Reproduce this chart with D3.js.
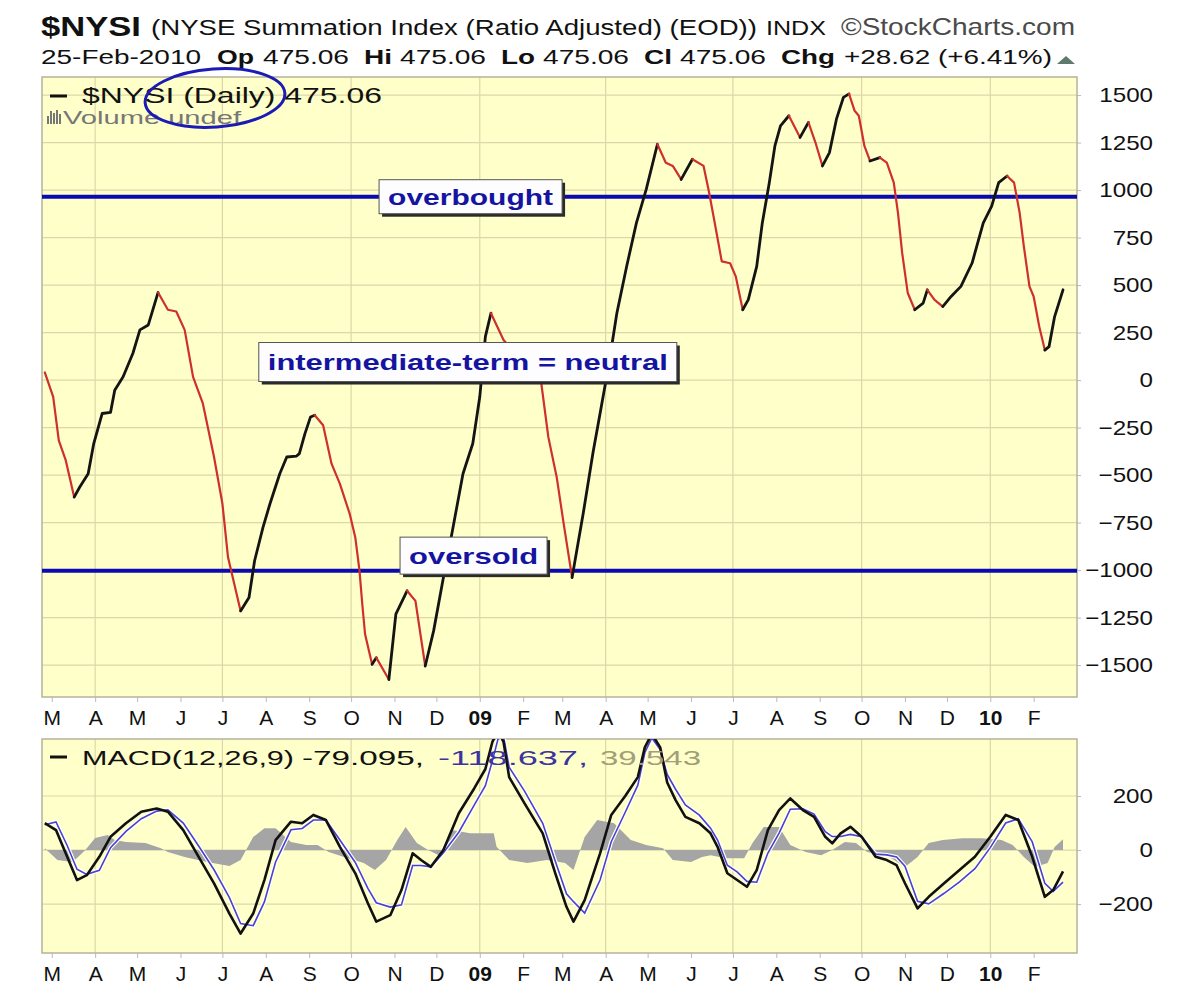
<!DOCTYPE html>
<html lang="en">
<head>
<meta charset="utf-8">
<title>$NYSI</title>
<script src="https://cdn.jsdelivr.net/npm/d3@7"></script>
<style>
  body { margin: 0; background: #fff; }
  text { font-family: "Liberation Sans", Arial, sans-serif; }
</style>
</head>
<body>
<svg id="chart" width="1200" height="997"></svg>
<script>
// NYSE Summation Index
var nysiDates = ["2008-02-25","2008-03-02","2008-03-06","2008-03-11","2008-03-17","2008-03-21","2008-03-27","2008-03-31",
  "2008-04-06","2008-04-12","2008-04-15","2008-04-21","2008-04-28","2008-05-03","2008-05-09","2008-05-16","2008-05-23",
  "2008-05-29","2008-06-04","2008-06-10","2008-06-17","2008-06-25","2008-07-01","2008-07-05","2008-07-14","2008-07-20",
  "2008-07-24","2008-07-30","2008-08-04","2008-08-11","2008-08-16","2008-08-23","2008-08-25","2008-08-29","2008-09-02",
  "2008-09-05","2008-09-11","2008-09-17","2008-09-23","2008-09-30","2008-10-04","2008-10-07","2008-10-09","2008-10-11",
  "2008-10-16","2008-10-19","2008-10-28","2008-11-02","2008-11-10","2008-11-16","2008-11-23","2008-11-29","2008-12-06",
  "2008-12-12","2008-12-20","2008-12-27","2009-01-01","2009-01-05","2009-01-09","2009-01-18","2009-01-31","2009-02-14",
  "2009-02-19","2009-02-25","2009-03-02","2009-03-08","2009-03-16","2009-03-23","2009-03-28","2009-04-03","2009-04-09",
  "2009-04-16","2009-04-23","2009-04-30","2009-05-08","2009-05-14","2009-05-19","2009-05-25","2009-06-02","2009-06-10",
  "2009-06-14","2009-06-18","2009-06-23","2009-06-29","2009-07-03","2009-07-08","2009-07-12","2009-07-18","2009-07-22",
  "2009-07-27","2009-07-31","2009-08-04","2009-08-10","2009-08-18","2009-08-24","2009-08-29","2009-09-03","2009-09-08",
  "2009-09-13","2009-09-18","2009-09-22","2009-09-26","2009-09-29","2009-10-03","2009-10-07","2009-10-14","2009-10-19",
  "2009-10-24","2009-10-27","2009-10-30","2009-11-03","2009-11-08","2009-11-14","2009-11-17","2009-11-22","2009-11-28",
  "2009-12-04","2009-12-11","2009-12-19","2009-12-23","2009-12-27","2010-01-02","2010-01-07","2010-01-13","2010-01-18",
  "2010-01-22","2010-01-25","2010-01-29","2010-02-01","2010-02-05","2010-02-09","2010-02-12","2010-02-16","2010-02-22"];
var nysiValues = [40,-88,-317,-423,-616,-563,-493,-334,
  -176,-170,-53,17,141,264,290,461,370,
  361,264,17,-123,-405,-651,-933,-1215,-1144,
  -951,-775,-651,-493,-405,-400,-387,-282,-194,
  -185,-238,-440,-546,-704,-828,-1003,-1180,-1338,
  -1496,-1461,-1576,-1232,-1109,-1162,-1505,-1320,-1039,
  -810,-493,-334,-88,229,352,211,100,-18,
  -299,-511,-757,-1039,-700,-380,-176,70,352,
  598,827,1004,1241,1144,1127,1056,1162,1127,
  986,827,625,615,546,370,423,598,827,
  1039,1232,1338,1391,1277,1356,1250,1127,1197,
  1373,1488,1506,1417,1391,1232,1153,1171,1144,
  1039,880,669,458,370,405,475,423,387,
  440,493,616,722,827,915,1039,1074,1039,
  880,704,493,440,282,158,176,334,475.06];

// MACD(12,26,9) line and signal line
var macdDates = ["2008-02-25","2008-03-04","2008-03-12","2008-03-19","2008-03-26","2008-04-04","2008-04-12","2008-04-23",
  "2008-05-04","2008-05-15","2008-05-23","2008-06-03","2008-06-14","2008-06-25","2008-07-06","2008-07-14","2008-07-23",
  "2008-07-31","2008-08-08","2008-08-19","2008-08-27","2008-09-04","2008-09-13","2008-09-23","2008-10-04","2008-10-13",
  "2008-10-19","2008-10-29","2008-11-06","2008-11-14","2008-11-20","2008-11-27","2008-12-06","2008-12-17","2008-12-28",
  "2009-01-05","2009-01-10","2009-01-14","2009-01-18","2009-01-22","2009-02-02","2009-02-15","2009-02-24","2009-03-04",
  "2009-03-09","2009-03-17","2009-03-28","2009-04-05","2009-04-15","2009-04-24","2009-04-29","2009-05-04","2009-05-10",
  "2009-05-15","2009-05-21","2009-05-28","2009-06-07","2009-06-15","2009-06-20","2009-06-27","2009-07-04","2009-07-11",
  "2009-07-18","2009-07-26","2009-08-03","2009-08-11","2009-08-20","2009-08-28","2009-09-05","2009-09-10","2009-09-16",
  "2009-09-23","2009-10-01","2009-10-11","2009-10-19","2009-10-26","2009-11-01","2009-11-10","2009-11-18","2009-11-29",
  "2009-12-10","2009-12-21","2010-01-01","2010-01-12","2010-01-21","2010-01-31","2010-02-09","2010-02-15","2010-02-22"];
var macdValues = [100,74,-25,-111,-93,-25,49,99,
  142,154,142,74,-25,-123,-235,-309,-235,
  -111,37,105,99,130,111,12,-86,-197,
  -265,-241,-148,-12,-37,-62,0,136,228,
  300,400,440,400,270,173,62,-86,-210,
  -265,-185,-12,130,200,270,380,430,380,
  250,185,123,99,62,12,-86,-111,-136,
  -74,74,148,191,148,123,49,25,62,
  86,49,-25,-37,-56,-123,-216,-173,-123,
  -74,-25,49,130,111,-25,-173,-148,-79.095];
var signalValues = [94,104,17,-71,-90,-75,9,69,
  116,144,149,100,15,-73,-176,-272,-280,
  -192,-44,75,80,111,111,37,-46,-142,
  -195,-211,-203,-57,-57,-62,-10,66,166,
  238,330,410,420,307,218,99,-41,-162,
  -191,-233,-111,31,140,240,360,415,372,
  280,225,167,129,81,37,-56,-81,-116,
  -119,-11,63,151,153,133,68,50,50,
  58,49,-15,-18,-26,-60,-190,-199,-160,
  -118,-69,9,100,116,30,-123,-153,-118.637];

// MACD histogram
var histDates = ["2008-02-25","2008-03-05","2008-03-16","2008-03-25","2008-04-01","2008-04-10","2008-04-15","2008-04-23",
  "2008-05-07","2008-05-18","2008-05-23","2008-06-04","2008-06-20","2008-07-06","2008-07-14","2008-07-23","2008-07-31",
  "2008-08-08","2008-08-19","2008-08-30","2008-09-07","2008-09-15","2008-09-26","2008-10-10","2008-10-18","2008-10-26",
  "2008-11-03","2008-11-09","2008-11-17","2008-11-25","2008-12-03","2008-12-12","2008-12-25","2009-01-11","2009-01-13",
  "2009-01-22","2009-02-04","2009-02-18","2009-03-03","2009-03-09","2009-03-17","2009-03-26","2009-04-07","2009-04-19",
  "2009-04-30","2009-05-12","2009-05-19","2009-06-01","2009-06-09","2009-06-15","2009-06-26","2009-07-09","2009-07-15",
  "2009-07-23","2009-08-03","2009-08-11","2009-08-22","2009-09-02","2009-09-10","2009-09-19","2009-09-27","2009-10-05",
  "2009-10-19","2009-11-01","2009-11-10","2009-11-18","2009-11-28","2009-12-12","2009-12-26","2010-01-09","2010-01-17",
  "2010-01-25","2010-02-02","2010-02-11","2010-02-16","2010-02-22"];
var histValues = [7,-37,-44,0,45,56,37,30,
  26,7,-7,-26,-44,-59,-37,48,81,
  81,30,19,19,-7,-26,-48,-74,-37,
  37,85,26,0,-20,74,62,62,12,
  -37,-48,-37,-48,-74,48,111,99,37,
  19,7,-37,-44,-26,-19,-30,-30,26,
  85,85,19,-7,-19,0,30,26,-7,
  -19,-63,-26,26,37,44,44,37,19,
  -26,-63,-48,11,39.543];

var monthLabels = ["M","A","M","J","J","A","S","O","N","D","09","F",
                   "M","A","M","J","J","A","S","O","N","D","10","F"];
var priceTicks = [1500,1250,1000,750,500,250,0,-250,-500,-750,-1000,-1250,-1500];
var macdTicks = [200,0,-200];
var levelLines = [{name:"overbought", value:965}, {name:"oversold", value:-1003}];
var notes = [
  {text:"overbought", date:"2008-10-21", value:965, w:183, h:34},
  {text:"intermediate-term = neutral", date:"2008-07-27", value:95, w:418, h:39},
  {text:"oversold", date:"2008-11-05", value:-924, w:147, h:37}
];

var parse = d3.timeParse("%Y-%m-%d");
var svg = d3.select("#chart");

var L = 42, R = 1077, mTop = 77, mBot = 697, pTop = 739, pBot = 953;

var x = d3.scaleTime().domain([new Date(2008,1,23), new Date(2010,2,4)]).range([L, R]);
var y = d3.scaleLinear().domain([-1668, 1595]).range([mBot, mTop]);
var ym = d3.scaleLinear().domain([-381, 411]).range([pBot, pTop]);

var months = d3.timeMonth.range(new Date(2008,2,1), new Date(2010,2,1));
var quarters = months.filter(function(d){ return d.getMonth() % 3 === 0; });

function stretch(sel, k) {
  sel.each(function(){
    var w = this.getComputedTextLength();
    d3.select(this).attr("textLength", w * k).attr("lengthAdjust", "spacingAndGlyphs");
  });
}

function drawPanel(top, bottom, yScale, ticks, id) {
  svg.append("clipPath").attr("id", id).append("rect")
    .attr("x", L).attr("y", top).attr("width", R - L).attr("height", bottom - top);
  svg.append("rect").attr("x", L).attr("y", top).attr("width", R - L).attr("height", bottom - top)
    .attr("fill", "#ffffc9");
  var g = svg.append("g");
  g.selectAll(".hg").data(ticks).enter().append("line")
    .attr("x1", L).attr("x2", R)
    .attr("y1", function(d){ return yScale(d); }).attr("y2", function(d){ return yScale(d); })
    .attr("stroke", "#dcd7aa").attr("stroke-width", 1.2);
  g.selectAll(".vg").data(quarters).enter().append("line")
    .attr("y1", top).attr("y2", bottom)
    .attr("x1", function(d){ return x(d); }).attr("x2", function(d){ return x(d); })
    .attr("stroke", "#dcd7aa").attr("stroke-width", 1.2);

  // month axis under the panel
  var ax = svg.append("g").attr("transform", "translate(0," + bottom + ")")
    .call(d3.axisBottom(x).tickValues(months).tickSize(5).tickPadding(8)
      .tickFormat(function(d, i){ return monthLabels[i]; }));
  ax.select(".domain").remove();
  ax.selectAll("line").attr("stroke", "#bbb");
  ax.selectAll("text").attr("font-size", 21).attr("fill", "#111")
    .attr("font-family", "'Liberation Sans', Arial, sans-serif")
    .attr("font-weight", function(d, i){ return /\d/.test(monthLabels[i]) ? "bold" : "normal"; });

  // value axis on the right
  var ay = svg.append("g").attr("transform", "translate(" + R + ",0)")
    .call(d3.axisRight(yScale).tickValues(ticks).tickSize(4).tickFormat(d3.format("d")));
  ay.select(".domain").remove();
  ay.selectAll("line").attr("stroke", "#bbb");
  ay.selectAll("text").attr("x", 76).attr("text-anchor", "end").attr("font-size", 21).attr("fill", "#111")
    .attr("font-family", "'Liberation Sans', Arial, sans-serif");
  stretch(ay.selectAll("text"), 1.15);

  svg.append("rect").attr("x", L).attr("y", top).attr("width", R - L).attr("height", bottom - top)
    .attr("fill", "none").attr("stroke", "#b7b39c").attr("stroke-width", 1.5);
}

drawPanel(mTop, mBot, y, priceTicks, "clipMain");
drawPanel(pTop, pBot, ym, macdTicks, "clipMacd");

// ---- header ----
function txt(s, px, py, size, opts) {
  opts = opts || {};
  var t = svg.append("text").attr("x", px).attr("y", py).attr("font-size", size)
    .attr("fill", opts.fill || "#111").attr("font-weight", opts.bold ? "bold" : "normal").text(s);
  if (opts.family) t.attr("font-family", opts.family);
  if (opts.w) t.attr("textLength", opts.w).attr("lengthAdjust", "spacingAndGlyphs");
  return t;
}
txt("$NYSI", 41, 36, 28, {bold:true, w:100});
txt("(NYSE Summation Index (Ratio Adjusted) (EOD))", 151, 35, 22, {w:606});
txt("INDX", 766, 35, 20, {w:60});
txt("\u00A9StockCharts.com", 841, 35, 24, {w:234, fill:"#4a4a4a"});

var line2 = [
  ["25-Feb-2010", 41, 160, false], ["Op", 217, 37, true], ["475.06", 263, 86, false],
  ["Hi", 364, 28, true], ["475.06", 400, 86, false], ["Lo", 501, 34, true], ["475.06", 543, 86, false],
  ["Cl", 644, 28, true], ["475.06", 680, 86, false], ["Chg", 781, 54, true], ["+28.62 (+6.41%)", 844, 208, false]
];
line2.forEach(function(p){ txt(p[0], p[1], 64, 20, {bold:p[3], w:p[2]}); });
svg.append("path").attr("d", "M1057,64 L1075,64 L1066,56 Z").attr("fill", "#5d7a6a");

// ---- main panel content ----
var nysi = nysiDates.map(function(d, i){ return {date: parse(d), value: nysiValues[i]}; });

var lvl = svg.append("g").attr("clip-path", "url(#clipMain)");
lvl.selectAll("line").data(levelLines).enter().append("line")
  .attr("x1", L).attr("x2", R)
  .attr("y1", function(d){ return y(d.value); }).attr("y2", function(d){ return y(d.value); })
  .attr("stroke", "#0a0ab0").attr("stroke-width", 4);

// colour runs: black when rising, red when falling
var runs = [];
for (var i = 1; i < nysi.length; i++) {
  var up = nysi[i].value >= nysi[i - 1].value;
  var last = runs[runs.length - 1];
  if (last && last.up === up) last.pts.push(nysi[i]);
  else runs.push({up: up, pts: [nysi[i - 1], nysi[i]]});
}
var line = d3.line().x(function(d){ return x(d.date); }).y(function(d){ return y(d.value); });
var lg = svg.append("g").attr("clip-path", "url(#clipMain)");
lg.selectAll("path").data(runs).enter().append("path")
  .attr("d", function(d){ return line(d.pts); })
  .attr("fill", "none")
  .attr("stroke", function(d){ return d.up ? "#141414" : "#cf2f2f"; })
  .attr("stroke-width", function(d){ return d.up ? 2.8 : 2.2; })
  .attr("stroke-linejoin", "round").attr("stroke-linecap", "round");

// annotation boxes
var ng = svg.append("g");
notes.forEach(function(n){
  var bx = x(parse(n.date)), by = y(n.value) - n.h / 2;
  ng.append("rect").attr("x", bx + 3).attr("y", by + 3).attr("width", n.w).attr("height", n.h).attr("fill", "#2a2a2a");
  ng.append("rect").attr("x", bx).attr("y", by).attr("width", n.w).attr("height", n.h)
    .attr("fill", "#fdfdff").attr("stroke", "#555").attr("stroke-width", 1);
  ng.append("text").attr("x", bx + n.w / 2).attr("y", by + n.h / 2 + 8).attr("text-anchor", "middle")
    .attr("font-family", "'DejaVu Sans', Verdana, sans-serif").attr("font-weight", "bold")
    .attr("font-size", 22).attr("fill", "#1414a0")
    .attr("textLength", n.w - 18).attr("lengthAdjust", "spacingAndGlyphs").text(n.text);
});

// legend
svg.append("line").attr("x1", 50).attr("x2", 67).attr("y1", 96).attr("y2", 96).attr("stroke", "#111").attr("stroke-width", 3);
txt("$NYSI (Daily) 475.06", 82, 103, 22, {family:"'DejaVu Sans Mono', monospace", w:300});
var icon = svg.append("g").attr("fill", "#777");
[[47,116,2,8],[50,111,2,13],[53,113,2,11],[56,110,2,14],[59,114,2,10]].forEach(function(b){
  icon.append("rect").attr("x", b[0]).attr("y", b[1]).attr("width", b[2]).attr("height", b[3]);
});
txt("Volume undef", 63, 124, 19, {family:"'DejaVu Sans', sans-serif", w:178, fill:"#777"});
svg.append("ellipse").attr("cx", 215).attr("cy", 98).attr("rx", 70).attr("ry", 29)
  .attr("transform", "rotate(-4,215,98)")
  .attr("fill", "none").attr("stroke", "#1c1cb4").attr("stroke-width", 3);

// ---- MACD panel ----
var macd = macdDates.map(function(d, i){ return {date: parse(d), macd: macdValues[i], signal: signalValues[i]}; });
var hist = histDates.map(function(d, i){ return {date: parse(d), value: histValues[i]}; });
var mg = svg.append("g").attr("clip-path", "url(#clipMacd)");
mg.append("path").datum(hist)
  .attr("d", d3.area().x(function(d){ return x(d.date); }).y0(ym(0)).y1(function(d){ return ym(d.value); }))
  .attr("fill", "#a5a5a5");
var sigLine = d3.line().x(function(d){ return x(d.date); }).y(function(d){ return ym(d.signal); });
var macdLine = d3.line().x(function(d){ return x(d.date); }).y(function(d){ return ym(d.macd); });
mg.append("path").datum(macd).attr("d", sigLine).attr("fill", "none").attr("stroke", "#fff").attr("stroke-width", 4);
mg.append("path").datum(macd).attr("d", sigLine).attr("fill", "none").attr("stroke", "#4a42c8").attr("stroke-width", 1.6);
mg.append("path").datum(macd).attr("d", macdLine).attr("fill", "none").attr("stroke", "#111")
  .attr("stroke-width", 2.6).attr("stroke-linejoin", "round");

svg.append("line").attr("x1", 50).attr("x2", 67).attr("y1", 757).attr("y2", 757).attr("stroke", "#111").attr("stroke-width", 3);
var mono = "'DejaVu Sans Mono', monospace";
txt("MACD(12,26,9)", 82, 765, 21, {family:mono, w:212});
txt("-79.095,", 302, 765, 21, {family:mono, w:122});
txt("-118.637,", 438, 765, 21, {family:mono, w:150, fill:"#3c34a0"});
txt("39.543", 600, 765, 21, {family:mono, w:101, fill:"#a29e78"});
</script>
</body>
</html>
